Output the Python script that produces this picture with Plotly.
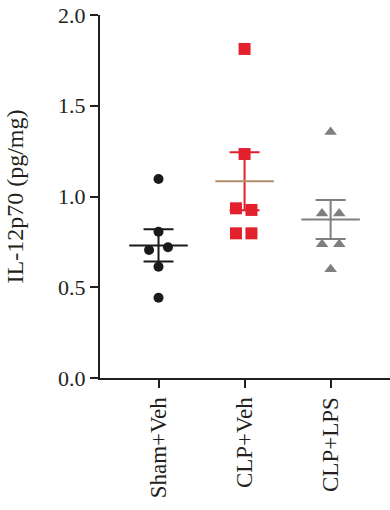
import numpy as np
import plotly.graph_objects as go

categories = ["Sham+Veh", "CLP+Veh", "CLP+LPS"]
sham_veh = [1.096, 0.806, 0.705, 0.720, 0.613, 0.442]
clp_veh = [1.813, 1.234, 0.935, 0.926, 0.797, 0.797]
clp_lps = [1.355, 0.907, 0.907, 0.737, 0.737, 0.599]
# horizontal scatter offsets of points within each group (category units)
sham_jitter = [0.0, 0.0, -0.11, 0.11, 0.0, 0.0]
veh_jitter = [0.0, 0.0, -0.10, 0.08, -0.10, 0.08]
lps_jitter = [0.0, -0.10, 0.10, -0.10, 0.10, 0.0]
y_ticks = [0.0, 0.5, 1.0, 1.5, 2.0]

groups = [sham_veh, clp_veh, clp_lps]
jitters = [sham_jitter, veh_jitter, lps_jitter]
point_colors = ["#1a1a1a", "#e3202d", "#7f7f7f"]
bar_colors = ["#1a1a1a", "#e3202d", "#7f7f7f"]
mean_colors = ["#1a1a1a", "#b08f6a", "#7f7f7f"]
symbols = ["circle", "square", "triangle-up"]
sizes = [10, 12, 11]

fig = go.Figure()
for i, (vals, jit) in enumerate(zip(groups, jitters)):
    v = np.array(vals)
    m = v.mean()
    sem = v.std(ddof=1) / np.sqrt(len(v))
    fig.add_trace(go.Scatter(
        x=[i + j for j in jit], y=vals, mode="markers",
        marker=dict(symbol=symbols[i], size=sizes[i], color=point_colors[i], line=dict(width=0)),
        showlegend=False, hoverinfo="skip"))
    # SEM error bar
    fig.add_trace(go.Scatter(
        x=[i], y=[m], mode="markers", marker=dict(size=0.1, color=bar_colors[i]),
        error_y=dict(type="data", array=[sem], arrayminus=[sem], symmetric=False,
                     color=bar_colors[i], thickness=2, width=15),
        showlegend=False, hoverinfo="skip"))
    # mean line
    fig.add_trace(go.Scatter(
        x=[i - 0.34, i + 0.34], y=[m, m], mode="lines",
        line=dict(color=mean_colors[i], width=2), showlegend=False, hoverinfo="skip"))

font = "Liberation Serif, DejaVu Serif, serif"
fig.update_layout(
    width=390, height=510,
    margin=dict(l=100, r=0, t=15, b=132),
    plot_bgcolor="white", paper_bgcolor="white",
    font=dict(family=font, size=22, color="#231f20"),
)
fig.update_xaxes(
    range=[-0.68, 2.69], tickmode="array", tickvals=[0, 1, 2], ticktext=categories,
    tickangle=-90, ticks="outside", ticklen=8, tickwidth=2, tickcolor="#231f20",
    showline=True, linewidth=2, linecolor="#231f20", showgrid=False, zeroline=False,
    tickfont=dict(size=23), automargin=False)
fig.update_yaxes(
    range=[0, 2.0], tickmode="array", tickvals=y_ticks,
    ticktext=[f"{t:.1f}" for t in y_ticks],
    ticks="outside", ticklen=8, tickwidth=2, tickcolor="#231f20",
    showline=True, linewidth=2, linecolor="#231f20", showgrid=False, zeroline=False,
    title=dict(text="IL-12p70 (pg/mg)", font=dict(size=24), standoff=28),
    tickfont=dict(size=22), automargin=False)

fig.write_html("out.html", config={"displayModeBar": False},
               post_script="document.body.style.margin='0';document.body.style.overflow='hidden';")
